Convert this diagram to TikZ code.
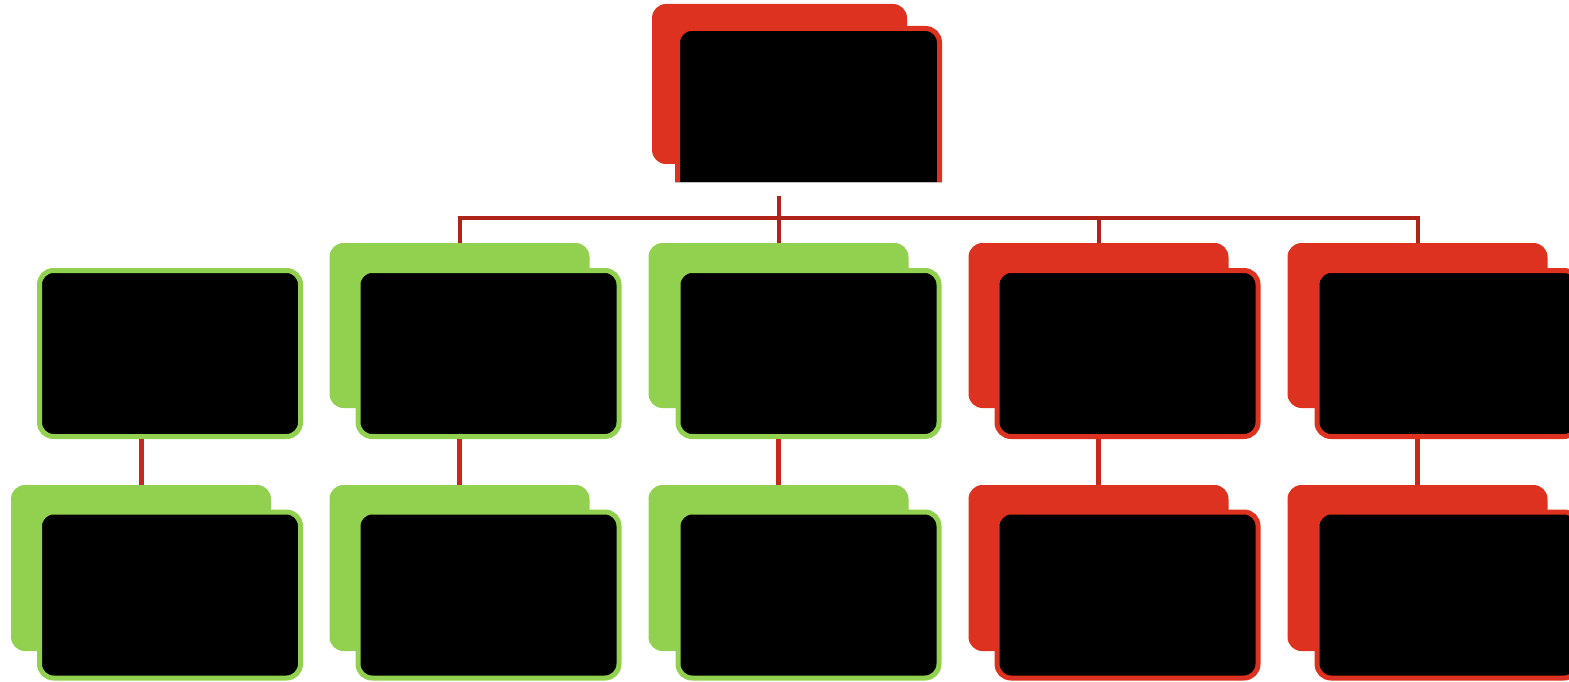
\documentclass[tikz,border=0pt]{standalone}
\usetikzlibrary{calc}
\definecolor{ored}{HTML}{DE3220}
\definecolor{ogreen}{HTML}{92D050}
\definecolor{busred}{HTML}{B02318}
\definecolor{linkred}{HTML}{C8281C}
\begin{document}
\begin{tikzpicture}[x=1pt,y=-1pt,
  shadowbox/.style={fill=#1, draw=none, rounded corners=14pt, inner sep=0pt, minimum width=260pt, minimum height=165pt},
  mainbox/.style={fill=black, draw=#1, line width=5pt, rounded corners=14pt, inner sep=0pt, minimum width=261pt, minimum height=166pt},
  busline/.style={draw=busred, line width=4pt},
  linkline/.style={draw=linkred, line width=5pt}]
\useasboundingbox (0,0) rectangle (1569,682);
% top box
\node[shadowbox=ored, minimum width=255pt, minimum height=160pt] (s0) at (779.5,84) {};
\begin{scope}
\clip (0,0) rectangle (1569,182);
\node[mainbox=ored, minimum width=262pt] (m0) at (808.5,111.5) {};
\end{scope}
\draw[gray!50, line width=1pt] (675,182.5) -- (942,182.5);
% row 1 shadows
\node[shadowbox=ogreen] (s12) at (459.5,325.5) {};
\node[shadowbox=ogreen] (s13) at (778.5,325.5) {};
\node[shadowbox=ored] (s14) at (1098.5,325.5) {};
\node[shadowbox=ored] (s15) at (1417.5,325.5) {};
% row 1 main
\node[mainbox=ogreen] (m11) at (170,353.5) {};
\node[mainbox=ogreen] (m12) at (488.5,353.5) {};
\node[mainbox=ogreen] (m13) at (808.5,353.5) {};
\node[mainbox=ored] (m14) at (1127.5,353.5) {};
\node[mainbox=ored] (m15) at (1447.5,353.5) {};
% row 2 shadows
\node[shadowbox=ogreen, minimum height=166pt] (s21) at (141,568) {};
\node[shadowbox=ogreen, minimum height=166pt] (s22) at (459.5,568) {};
\node[shadowbox=ogreen, minimum height=166pt] (s23) at (778.5,568) {};
\node[shadowbox=ored, minimum height=166pt] (s24) at (1098.5,568) {};
\node[shadowbox=ored, minimum height=166pt] (s25) at (1417.5,568) {};
% row 2 main
\node[mainbox=ogreen] (m21) at (170,595) {};
\node[mainbox=ogreen] (m22) at (488.5,595) {};
\node[mainbox=ogreen] (m23) at (808.5,595) {};
\node[mainbox=ored] (m24) at (1127.5,595) {};
\node[mainbox=ored] (m25) at (1447.5,595) {};
% connectors top to row 1
\coordinate (bus) at (778.5,218);
\coordinate (topstem) at (778.5,196);
\draw[busline] (topstem) -- (s13.north);
\draw[busline] (s12.north) -- (s12.north |- bus) -- (s15.north |- bus) -- (s15.north);
\draw[busline] (s14.north) -- (s14.north |- bus);
% connectors row 1 to row 2
\draw[linkline] (s21.north) -- (s21.north |- m11.south);
\draw[linkline] (s22.north) -- (s22.north |- m12.south);
\draw[linkline] (s23.north) -- (s23.north |- m13.south);
\draw[linkline] (s24.north) -- (s24.north |- m14.south);
\draw[linkline] (s25.north) -- (s25.north |- m15.south);
\end{tikzpicture}
\end{document}
